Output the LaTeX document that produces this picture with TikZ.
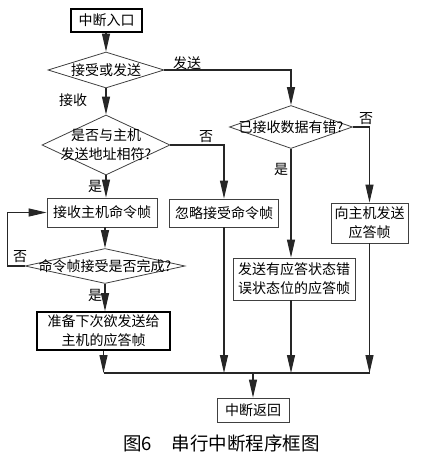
\documentclass[tikz,border=0pt]{standalone}
\usepackage{fontspec}
\setmainfont{Noto Sans CJK SC}
\usetikzlibrary{shapes.geometric,arrows.meta}
\begin{document}
\begin{tikzpicture}[x=1pt,y=-1pt,
  every node/.style={font=\fontsize{14}{19}\selectfont, inner sep=0pt, align=center},
  box/.style={draw=black!75, line width=0.8pt, rectangle},
  thickbox/.style={draw=black, line width=1.6pt, rectangle},
  dia/.style={draw=black!75, line width=0.8pt, diamond},
  conn/.style={draw=black!85, line width=1.1pt},
  arr/.style={conn, -{Triangle[length=18pt,width=8pt]}},
  lbl/.style={font=\fontsize{14}{16}\selectfont}
]
\useasboundingbox (0,0) rectangle (420,460);
% nodes
\node[thickbox, minimum width=71pt, minimum height=23pt] (start) at (106.5,20.5) {中断入口};
\node[dia, minimum width=116pt, minimum height=36pt] (d1) at (106,70) {};
\node at (d1) {接受或发送};
\node[dia, minimum width=128pt, minimum height=60pt] (d2) at (106,145) {};
\node at (d2) {是否与主机\\发送地址相符?};
\node[box, minimum width=110pt, minimum height=29pt] (b1) at (102,212.5) {接收主机命令帧};
\node[dia, minimum width=160pt, minimum height=35pt] (d4) at (105,266) {};
\node at (d4) {命令帧接受是否完成?};
\node[thickbox, minimum width=133pt, minimum height=38pt] (b2) at (103.5,331) {准备下次欲发送给\\主机的应答帧};
\node[box, minimum width=109pt, minimum height=28pt] (b3) at (224,213) {忽略接受命令帧};
\node[dia, minimum width=123pt, minimum height=43pt] (d3) at (291,127) {};
\node at (d3) {已接收数据有错?};
\node[box, minimum width=122pt, minimum height=42pt] (b4) at (294,279) {发送有应答状态错\\误状态位的应答帧};
\node[box, minimum width=77pt, minimum height=40pt] (b5) at (369.5,223) {向主机发送\\应答帧};
\node[box, minimum width=72pt, minimum height=24pt] (end) at (253,410) {中断返回};
\node[anchor=west, font=\fontsize{18.5}{20}\selectfont] (cap) at (123,443) {图6\hspace{20pt}串行中断程序框图};
% coordinates
\coordinate (mL) at (103.5,373);
\coordinate (mR) at (369.5,373);
% connectors
\draw[arr] (start.south -| d1.north) -- (d1.north);
\draw[arr] (d1.east) -| (d3.north);
\node[lbl] (l1) at (187,63) {发送};
\draw[arr] (d1.south) -- (d2.north);
\node[lbl] (l2) at (73,100) {接收};
\draw[arr] (d2.east) -| (b3.north);
\node[lbl] (l3) at (206,137) {否};
\draw[arr] (d2.south) -- (d2.south |- b1.north);
\node[lbl] (l4) at (95,186) {是};
\draw[arr] (d4.north |- b1.south) -- (d4.north);
\draw[arr] (d4.west) -- ++(-17,0) |- (b1.west);
\node[lbl] (l5) at (20,257) {否};
\draw[arr] (d4.south) -- (d4.south |- b2.north);
\node[lbl] (l6) at (95,295) {是};
\draw[arr] (d3.south) -- (d3.south |- b4.north);
\node[lbl] (l7) at (281,169) {是};
\draw[arr] (d3.east) -| (b5.north);
\node[lbl] (l8) at (366,119) {否};
% merge
\draw[arr] (b2.south) -- (mL);
\draw[conn] (mL) -- (mR);
\draw[arr] (b3.south) -- (b3.south |- mL);
\draw[arr] (d3.south |- b4.south) -- (d3.south |- mL);
\draw[arr] (b5.south) -- (mR);
\draw[arr] (end.north |- mL) -- (end.north);
\end{tikzpicture}
\end{document}
